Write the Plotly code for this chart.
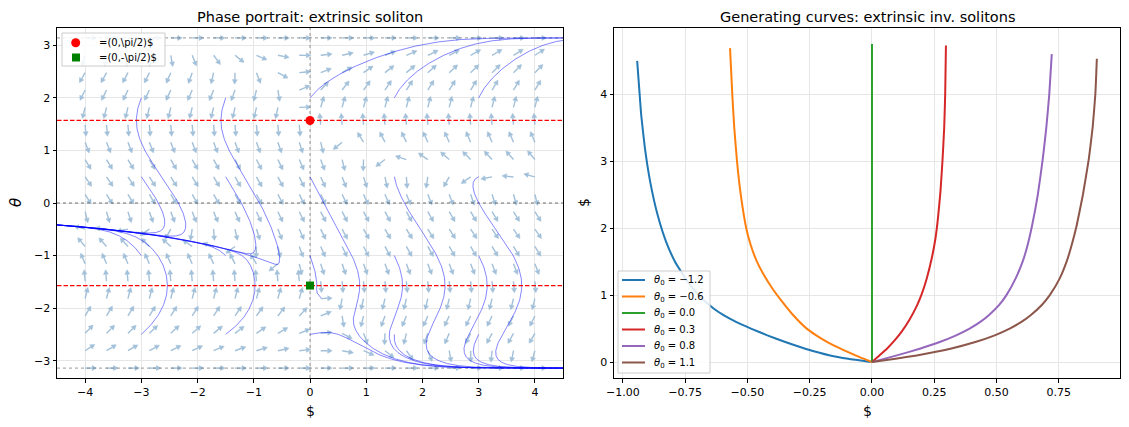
import numpy as np
import plotly.graph_objects as go

W, H = 1129, 427
L_X0, L_X1 = 57, 563
R_X0, R_X1 = 614, 1120
Y_TOP, Y_BOT = 28, 378

xr_left = [-4.5, 4.5]
yr_left = [-3.33, 3.33]
xr_right = [-1.036, 0.996]
yr_right = [-0.2375, 4.99]

# ---------------- data ----------------
grid_x = np.linspace(-4, 4, 22)
grid_th = np.linspace(-np.pi, np.pi, 20)
seed_x = [-3.0, -1.5, 0.0, 1.5, 3.0]
seed_th = [-2.5, -1.0, 0.5, 2.0]
fixed_points = [(0.0, np.pi / 2), (0.0, -np.pi / 2)]
fixed_labels = [r"=(0,\pi/2)$", r"=(0,-\pi/2)$"]

theta0 = [-1.2, -0.6, 0.0, 0.3, 0.8, 1.1]
curve_x = [
    [0, -0.095, -0.168, -0.268, -0.348, -0.42, -0.486, -0.546, -0.596, -0.636, -0.696, -0.74, -0.791, -0.827, -0.861, -0.891, -0.912, -0.927, -0.935, -0.943],
    [0, -0.066, -0.126, -0.179, -0.224, -0.262, -0.316, -0.36, -0.40, -0.434, -0.462, -0.487, -0.505, -0.527, -0.542, -0.553, -0.561, -0.57],
    [0, 0],
    [0, 0.03, 0.06, 0.09, 0.12, 0.15, 0.18, 0.2, 0.22, 0.24, 0.255, 0.265, 0.275, 0.283, 0.29, 0.294, 0.297],
    [0, 0.1, 0.192, 0.272, 0.338, 0.392, 0.435, 0.469, 0.51, 0.54, 0.577, 0.605, 0.625, 0.643, 0.666, 0.686, 0.70, 0.712, 0.722],
    [0, 0.095, 0.18, 0.315, 0.415, 0.493, 0.553, 0.600, 0.637, 0.681, 0.714, 0.754, 0.7815, 0.802, 0.822, 0.847, 0.871, 0.886, 0.897, 0.903],
]
curve_y = [
    [0, 0.05, 0.1, 0.2, 0.3, 0.4, 0.5, 0.6, 0.7, 0.8, 1.0, 1.2, 1.5, 1.8, 2.2, 2.7, 3.2, 3.7, 4.1, 4.5],
    [0, 0.1, 0.2, 0.3, 0.4, 0.5, 0.7, 0.9, 1.1, 1.3, 1.5, 1.75, 2.0, 2.5, 3.0, 3.5, 4.0, 4.69],
    [0, 4.75],
    [0, 0.1, 0.2, 0.32, 0.46, 0.63, 0.84, 1.02, 1.25, 1.55, 1.85, 2.15, 2.55, 3.0, 3.5, 4.0, 4.73],
    [0, 0.1, 0.2, 0.3, 0.4, 0.5, 0.6, 0.7, 0.85, 1.0, 1.25, 1.5, 1.75, 2.04, 2.5, 3.04, 3.5, 4.0, 4.6],
    [0, 0.05, 0.1, 0.2, 0.3, 0.4, 0.5, 0.6, 0.7, 0.85, 1.0, 1.25, 1.5, 1.75, 2.04, 2.5, 3.04, 3.5, 4.0, 4.53],
]
curve_colors = ["#1f77b4", "#ff7f0e", "#2ca02c", "#d62728", "#9467bd", "#8c564b"]


def field(x, th):
    c, s = np.cos(th), np.sin(th)
    return c * (c - x * s), x * s - c - c * c


def trajectory(x0, t0, dt=0.01, T=25.0):
    xs, ts = [x0], [t0]
    x, t = x0, t0
    for _ in range(int(T / dt)):
        k1 = field(x, t)
        k2 = field(x + dt / 2 * k1[0], t + dt / 2 * k1[1])
        k3 = field(x + dt / 2 * k2[0], t + dt / 2 * k2[1])
        k4 = field(x + dt * k3[0], t + dt * k3[1])
        x = x + dt / 6 * (k1[0] + 2 * k2[0] + 2 * k3[0] + k4[0])
        t = t + dt / 6 * (k1[1] + 2 * k2[1] + 2 * k3[1] + k4[1])
        xs.append(x)
        ts.append(t)
        if abs(x) > 4.7 or abs(t) > 3.5:
            break
    return xs, ts


# pixel scales of left axes
kx = (L_X1 - L_X0) / (xr_left[1] - xr_left[0])
ky = (Y_BOT - Y_TOP) / (yr_left[1] - yr_left[0])

fig = go.Figure()

# ---- quiver ----
Lpx, HL, HW = 11.5, 4.5, 2.5
sx, sy, hx, hy = [], [], [], []
for th in grid_th:
    for x in grid_x:
        u, v = field(x, th)
        n = np.hypot(u, v)
        if n == 0:
            continue
        ux, uy = u / n, v / n
        tipx, tipy = x + Lpx * ux / kx, th + Lpx * uy / ky
        bx, by = x + (Lpx - HL) * ux / kx, th + (Lpx - HL) * uy / ky
        px_, py_ = -uy, ux
        sx += [x, bx, None]
        sy += [th, by, None]
        hx += [tipx, bx + HW * px_ / kx, bx - HW * px_ / kx, tipx, None]
        hy += [tipy, by + HW * py_ / ky, by - HW * py_ / ky, tipy, None]

arrow_col = "#a2c0d9"
fig.add_trace(go.Scatter(x=sx, y=sy, mode="lines", line=dict(color=arrow_col, width=1.4),
                         hoverinfo="skip", showlegend=False, xaxis="x", yaxis="y"))
fig.add_trace(go.Scatter(x=hx, y=hy, mode="lines", fill="toself", fillcolor=arrow_col,
                         line=dict(color=arrow_col, width=0.5),
                         hoverinfo="skip", showlegend=False, xaxis="x", yaxis="y"))


def hline(y, color, dash, width):
    fig.add_trace(go.Scatter(x=xr_left, y=[y, y], mode="lines",
                             line=dict(color=color, dash=dash, width=width),
                             hoverinfo="skip", showlegend=False, xaxis="x", yaxis="y"))


hline(0, "rgba(60,60,60,0.8)", "dot", 0.9)
hline(np.pi, "rgba(110,110,110,0.8)", "dot", 0.9)
hline(-np.pi, "rgba(110,110,110,0.8)", "dot", 0.9)
fig.add_trace(go.Scatter(x=[0, 0], y=yr_left, mode="lines",
                         line=dict(color="rgba(110,110,110,0.8)", dash="dot", width=0.9),
                         hoverinfo="skip", showlegend=False, xaxis="x", yaxis="y"))

# ---- streamlines ----
for x0 in seed_x:
    for t0 in seed_th:
        xs, ts = trajectory(x0, t0)
        fig.add_trace(go.Scatter(x=xs, y=ts, mode="lines",
                                 line=dict(color="rgba(0,0,255,0.6)", width=0.8),
                                 hoverinfo="skip", showlegend=False, xaxis="x", yaxis="y"))

hline(np.pi / 2, "red", "4.5px,2px", 1.3)
hline(-np.pi / 2, "red", "4.5px,2px", 1.3)

fig.add_trace(go.Scatter(x=[fixed_points[0][0]], y=[fixed_points[0][1]], mode="markers",
                         marker=dict(color="red", size=9, symbol="circle"),
                         name=fixed_labels[0], showlegend=False, xaxis="x", yaxis="y"))
fig.add_trace(go.Scatter(x=[fixed_points[1][0]], y=[fixed_points[1][1]], mode="markers",
                         marker=dict(color="green", size=8, symbol="square"),
                         name=fixed_labels[1], showlegend=False, xaxis="x", yaxis="y"))

# ---- right panel ----
names2 = []
for th0, cx, cy, col in zip(theta0, curve_x, curve_y, curve_colors):
    nm = "<i>θ</i><sub>0</sub> = " + f"{th0:.1f}".replace("-", "−")
    names2.append(nm)
    fig.add_trace(go.Scatter(x=cx, y=cy, mode="lines",
                             line=dict(color=col, width=2, shape="spline", smoothing=0.4),
                             name=nm, showlegend=False, xaxis="x2", yaxis="y2"))

font = "DejaVu Sans, sans-serif"


def PX(x):
    return x / W


def PY(y):
    return 1 - y / H


shapes = []
annotations = []

# left legend (manual)
shapes.append(dict(type="rect", xref="paper", yref="paper", x0=PX(62), x1=PX(165), y0=PY(33), y1=PY(66),
                   fillcolor="rgba(255,255,255,0.85)", line=dict(color="#cccccc", width=1), layer="above"))
shapes.append(dict(type="circle", xref="paper", yref="paper", x0=PX(71.2), x1=PX(80.2), y0=PY(38.3), y1=PY(47.3),
                   fillcolor="red", line=dict(color="red", width=0), layer="above"))
shapes.append(dict(type="rect", xref="paper", yref="paper", x0=PX(72), x1=PX(80), y0=PY(53.5), y1=PY(61.5),
                   fillcolor="green", line=dict(color="green", width=0), layer="above"))
for lab, yc in zip(fixed_labels, [42.8, 57.5]):
    annotations.append(dict(text=lab, x=PX(97), y=PY(yc), xref="paper", yref="paper", showarrow=False,
                            xanchor="left", yanchor="middle", font=dict(size=10)))

# right legend (manual)
shapes.append(dict(type="rect", xref="paper", yref="paper", x0=PX(618), x1=PX(710), y0=PY(271), y1=PY(373),
                   fillcolor="rgba(255,255,255,0.85)", line=dict(color="#cccccc", width=1), layer="above"))
for i, (nm, col) in enumerate(zip(names2, curve_colors)):
    yc = 280 + 16.5 * i
    shapes.append(dict(type="line", xref="paper", yref="paper", x0=PX(622), x1=PX(645), y0=PY(yc), y1=PY(yc),
                       line=dict(color=col, width=2), layer="above"))
    annotations.append(dict(text=nm, x=PX(652), y=PY(yc + 0.5), xref="paper", yref="paper", showarrow=False,
                            xanchor="left", yanchor="middle", font=dict(size=10)))

annotations += [
    dict(text="Phase portrait: extrinsic soliton", x=(L_X0 + L_X1) / 2 / W, y=PY(17),
         xref="paper", yref="paper", showarrow=False, font=dict(size=14.5), xanchor="center", yanchor="middle"),
    dict(text="Generating curves: extrinsic inv. solitons", x=(R_X0 + R_X1) / 2 / W, y=PY(17),
         xref="paper", yref="paper", showarrow=False, font=dict(size=14.5), xanchor="center", yanchor="middle"),
    dict(text="$", x=(L_X0 + L_X1) / 2 / W, y=PY(411), xref="paper", yref="paper",
         showarrow=False, font=dict(size=14), xanchor="center", yanchor="middle"),
    dict(text="$", x=(R_X0 + R_X1) / 2 / W, y=PY(411), xref="paper", yref="paper",
         showarrow=False, font=dict(size=14), xanchor="center", yanchor="middle"),
    dict(text="<i>θ</i>", x=PX(16), y=PY(203), xref="paper", yref="paper", textangle=-90,
         showarrow=False, font=dict(size=15), xanchor="center", yanchor="middle"),
    dict(text="$", x=PX(584), y=PY(203), xref="paper", yref="paper", textangle=-90,
         showarrow=False, font=dict(size=14), xanchor="center", yanchor="middle"),
]

dom_y = [(H - Y_BOT) / H, (H - Y_TOP) / H]
axis_common = dict(showline=True, linecolor="black", linewidth=1, mirror=True,
                   ticks="outside", ticklen=3.5, tickwidth=0.8, tickcolor="black",
                   showgrid=True, gridcolor="#e6e6e6", gridwidth=0.8, zeroline=False,
                   tickfont=dict(size=11, color="black", family=font), automargin=False)

fig.update_layout(
    width=W, height=H, margin=dict(l=0, r=0, t=0, b=0),
    paper_bgcolor="white", plot_bgcolor="white", showlegend=False,
    font=dict(family=font, color="black"),
    xaxis=dict(domain=[L_X0 / W, L_X1 / W], range=xr_left, anchor="y",
               tickvals=[-4, -3, -2, -1, 0, 1, 2, 3, 4],
               ticktext=["−4", "−3", "−2", "−1", "0", "1", "2", "3", "4"], **axis_common),
    yaxis=dict(domain=dom_y, range=yr_left, anchor="x",
               tickvals=[-3, -2, -1, 0, 1, 2, 3],
               ticktext=["−3", "−2", "−1", "0", "1", "2", "3"], **axis_common),
    xaxis2=dict(domain=[R_X0 / W, R_X1 / W], range=xr_right, anchor="y2",
                tickvals=[-1, -0.75, -0.5, -0.25, 0, 0.25, 0.5, 0.75],
                ticktext=["−1.00", "−0.75", "−0.50", "−0.25", "0.00", "0.25", "0.50", "0.75"],
                **axis_common),
    yaxis2=dict(domain=dom_y, range=yr_right, anchor="x2",
                tickvals=[0, 1, 2, 3, 4], ticktext=["0", "1", "2", "3", "4"], **axis_common),
    shapes=shapes,
    annotations=annotations,
)

fig.write_html("out.html")
